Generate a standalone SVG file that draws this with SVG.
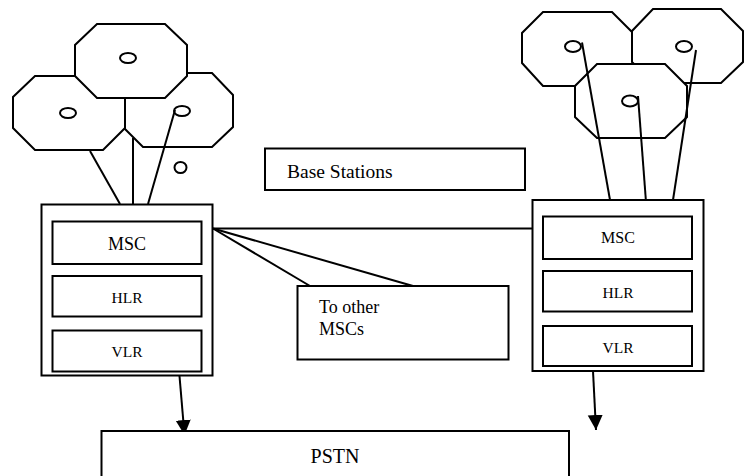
<svg xmlns="http://www.w3.org/2000/svg" width="749" height="476" viewBox="0 0 749 476">
<style>
.s{fill:#fff;stroke:#000;stroke-width:2}
.e{fill:none;stroke:#000;stroke-width:2}
.l{fill:none;stroke:#000;stroke-width:2}
text{font-family:'Liberation Serif','Times New Roman','DejaVu Serif',serif;fill:#000}
</style>
<defs>
<marker id="ah" markerWidth="16" markerHeight="16" refX="15" refY="7.5" orient="auto" markerUnits="userSpaceOnUse">
<path d="M0,0 L15,7.5 L0,15 Z" fill="#000"/>
</marker>
</defs>
<rect width="749" height="476" fill="#fff"/>

<g id="cells-left">
<polygon class="s" points="143,73 212,73 233,95 233,127 212,147 143,147 121,125 121,95"/>
<polygon class="s" points="35,76 103,76 125,98 125,128 103,150 35,150 13,128 13,97"/>
<polygon class="s" points="97,24 165,24 187,45 187,76 165,98 97,98 75,76 75,45"/>
<ellipse class="e" cx="128" cy="58" rx="8" ry="5"/>
<ellipse class="e" cx="68" cy="113" rx="8" ry="5"/>
<ellipse class="e" cx="182" cy="111" rx="8" ry="5"/>
<ellipse class="e" cx="180.5" cy="167.5" rx="6" ry="5.5"/>
</g>

<g id="cells-right">
<polygon class="s" points="543,12 612,12 633,33 633,64 612,86 543,86 522,63 522,33"/>
<polygon class="s" points="653,9 721,9 743,31 743,62 721,83 653,83 632,62 632,31"/>
<polygon class="s" points="597,64 665,64 687,86 687,117 665,138 597,138 575,117 575,86"/>
<ellipse class="e" cx="573" cy="46.5" rx="8" ry="5.5"/>
<ellipse class="e" cx="684" cy="46.5" rx="8" ry="5.5"/>
<ellipse class="e" cx="630" cy="101" rx="8" ry="5.5"/>
</g>

<g id="connectors">
<line class="l" x1="90" y1="151" x2="120" y2="204"/>
<line class="l" x1="133" y1="138" x2="133" y2="204"/>
<line class="l" x1="175" y1="110" x2="148" y2="204"/>
<line class="l" x1="582" y1="42.5" x2="610" y2="200"/>
<line class="l" x1="638" y1="96" x2="646" y2="202"/>
<line class="l" x1="696" y1="50" x2="673" y2="200"/>
<line class="l" x1="213" y1="228.5" x2="532" y2="228.5"/>
<line class="l" x1="213" y1="228.5" x2="310" y2="286"/>
<line class="l" x1="213" y1="228.5" x2="413" y2="286"/>
<line class="l" x1="179.5" y1="376" x2="184.5" y2="435" marker-end="url(#ah)"/>
<line class="l" x1="593" y1="371" x2="596" y2="430" marker-end="url(#ah)"/>
</g>

<g id="base-stations">
<rect class="s" x="265" y="148.5" width="260" height="41.5"/>
<text x="287" y="177.5" font-size="19.5">Base Stations</text>
</g>

<g id="msc-left">
<rect class="s" x="41.5" y="204.5" width="171" height="171"/>
<rect class="s" x="52.5" y="221.5" width="149" height="42.5"/>
<text x="127" y="250" font-size="18" text-anchor="middle">MSC</text>
<rect class="s" x="52.5" y="276" width="149" height="40.5"/>
<text x="127" y="302.5" font-size="15.5" text-anchor="middle">HLR</text>
<rect class="s" x="52.5" y="330.5" width="149" height="41"/>
<text x="127" y="356.5" font-size="15.5" text-anchor="middle">VLR</text>
</g>

<g id="msc-right">
<rect class="s" x="532.5" y="200" width="171" height="171"/>
<rect class="s" x="543" y="216.5" width="149" height="42.5"/>
<text x="618" y="242.5" font-size="16" text-anchor="middle">MSC</text>
<rect class="s" x="543" y="271" width="149" height="40.5"/>
<text x="618" y="297.5" font-size="15.5" text-anchor="middle">HLR</text>
<rect class="s" x="543" y="326" width="149" height="40"/>
<text x="618" y="352.5" font-size="15.5" text-anchor="middle">VLR</text>
</g>

<g id="other-mscs">
<rect class="s" x="297.5" y="286" width="211" height="73.5"/>
<text x="319" y="313" font-size="18">To other</text>
<text x="319" y="335" font-size="18">MSCs</text>
</g>

<g id="pstn">
<rect class="s" x="101.5" y="431" width="467.5" height="60"/>
<text x="335" y="462.5" font-size="20" text-anchor="middle">PSTN</text>
</g>
</svg>
